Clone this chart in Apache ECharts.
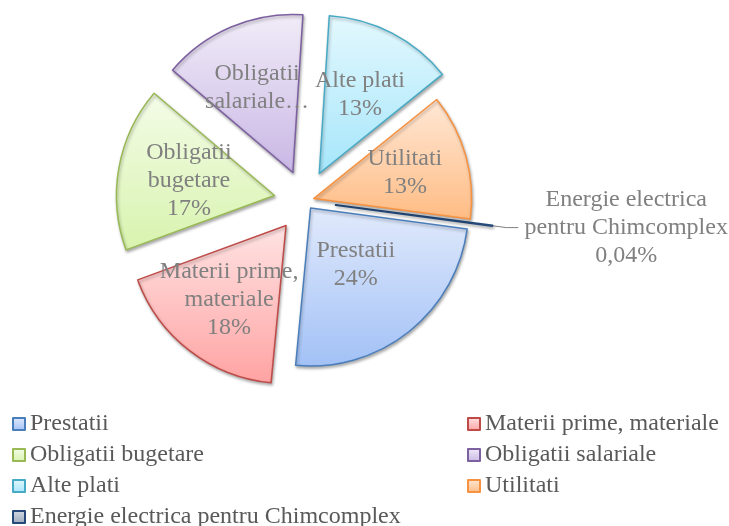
<!DOCTYPE html>
<html>
<head>
<meta charset="utf-8">
<script src="https://cdn.jsdelivr.net/npm/echarts@6/dist/echarts.min.js"></script>
<style>
  html, body { margin: 0; padding: 0; background: #fff; }
  #chart { width: 729px; height: 526px; }
</style>
</head>
<body>
<div id="chart"></div>
<script>
// data (shares in percent)
const categories = [
  'Prestatii',
  'Materii prime, materiale',
  'Obligatii bugetare',
  'Obligatii salariale',
  'Alte plati',
  'Utilitati',
  'Energie electrica pentru Chimcomplex'
];
const shares = [24.4, 17.9, 16.8, 14.8, 13.2, 12.86, 0.04];
const sliceLabels = [
  'Prestatii',
  'Materii prime,\nmateriale',
  'Obligatii\nbugetare',
  'Obligatii\nsalariale…',
  'Alte plati',
  'Utilitati',
  'Energie electrica\npentru Chimcomplex'
];
const percentShown = [true, true, true, false, true, true, true];

// styling
const FONT = 'Liberation Serif';
const fills = [
  ['#e1eafc', '#a2c1f6'],
  ['#ffe3e3', '#ffa3a3'],
  ['#f4fce8', '#d8f3ae'],
  ['#f1ecf8', '#c9b7e5'],
  ['#e3f8fe', '#a6e6fb'],
  ['#ffe8d6', '#ffbc84'],
  ['#d5dbe4', '#9aa8bc']
];
const borders = ['#4a7ebb', '#be4b48', '#98b954', '#7d60a0', '#46aac5', '#f69240', '#254a7a'];
// how far out (share of radius) each in-slice label sits
const labelRadius = [0.46, 0.59, 0.55, 0.58, 0.56, 0.6, null];
const groups = [
  { items: [1, 2, 3, 4, 6], offset: 31 },  // slices pulled out further
  { items: [0, 5], offset: 9 }             // slices pulled out only a little
];

function gradient(pair) {
  return {
    type: 'linear', x: 0, y: 0, x2: 0, y2: 1,
    colorStops: [{ offset: 0, color: pair[0] }, { offset: 1, color: pair[1] }]
  };
}

function percentText(v) {
  return v >= 1 ? Math.round(v) + '%' : v.toFixed(2).replace('.', ',') + '%';
}

function labelText(i) {
  return percentShown[i] ? sliceLabels[i] + '\n' + percentText(shares[i]) : sliceLabels[i];
}

function sliceItem(i) {
  const item = {
    name: categories[i],
    value: shares[i],
    selected: true,
    itemStyle: {
      color: gradient(fills[i]),
      borderColor: borders[i],
      borderWidth: 1.5,
      shadowColor: 'rgba(0,0,0,0.3)',
      shadowBlur: 3,
      shadowOffsetX: 1,
      shadowOffsetY: 2
    },
    label: { show: false },
    labelLine: { show: false }
  };
  if (i === 6) {
    item.itemStyle.borderWidth = 2;
    item.label = {
      show: true,
      position: 'outside',
      distanceToLabelLine: 3,
      formatter: () => labelText(i).split('\n').map(s => '{c|' + s + '}').join('\n'),
      rich: {
        c: { width: 210, align: 'center', fontFamily: FONT, fontSize: 24, lineHeight: 28, color: '#808080' }
      }
    };
    item.labelLine = { show: true, length: 14, length2: 12, lineStyle: { color: '#808080', width: 1 } };
  }
  return item;
}

function hiddenItem(i) {
  return {
    name: '_' + i,
    value: shares[i],
    itemStyle: { color: 'rgba(0,0,0,0)', borderWidth: 0, shadowBlur: 0, shadowColor: 'rgba(0,0,0,0)' },
    label: { show: false },
    labelLine: { show: false }
  };
}

function pieSeries(group) {
  return {
    type: 'pie',
    center: [305, 201],
    radius: 158,
    startAngle: -7.6,
    clockwise: true,
    selectedMode: 'multiple',
    selectedOffset: group.offset,
    avoidLabelOverlap: false,
    silent: true,
    data: categories.map((c, i) => group.items.includes(i) ? sliceItem(i) : hiddenItem(i))
  };
}

const legendBase = {
  orient: 'vertical',
  top: 412,
  height: 140,
  padding: 0,
  itemWidth: 12,
  itemHeight: 12,
  itemGap: 7,
  icon: 'rect',
  selectedMode: false,
  textStyle: { fontFamily: FONT, fontSize: 24, lineHeight: 24, color: '#595959' }
};

const chart = echarts.init(document.getElementById('chart'), null, { renderer: 'canvas' });
chart.setOption({
  animation: false,
  backgroundColor: '#fff',
  legend: [
    Object.assign({}, legendBase, { left: 12, data: [0, 2, 4, 6].map(i => categories[i]) }),
    Object.assign({}, legendBase, { left: 467, data: [1, 3, 5].map(i => categories[i]) })
  ],
  series: groups.map(pieSeries)
});

// in-slice labels: placed from the sector layout the pie series computed
const texts = [];
groups.forEach((g, si) => {
  const data = chart.getModel().getSeriesByIndex(si).getData();
  g.items.forEach((i) => {
    if (labelRadius[i] == null) return;
    const l = data.getItemLayout(i);
    const mid = (l.startAngle + l.endAngle) / 2;
    const d = g.offset + l.r * labelRadius[i];
    texts.push({
      type: 'text',
      silent: true,
      x: l.cx + Math.cos(mid) * d,
      y: l.cy + Math.sin(mid) * d,
      z: 10,
      style: {
        text: labelText(i),
        fontFamily: FONT,
        fontSize: 24,
        lineHeight: 28,
        fill: '#808080',
        align: 'center',
        verticalAlign: 'middle'
      }
    });
  });
});
chart.setOption({ graphic: texts });
</script>
</body>
</html>
